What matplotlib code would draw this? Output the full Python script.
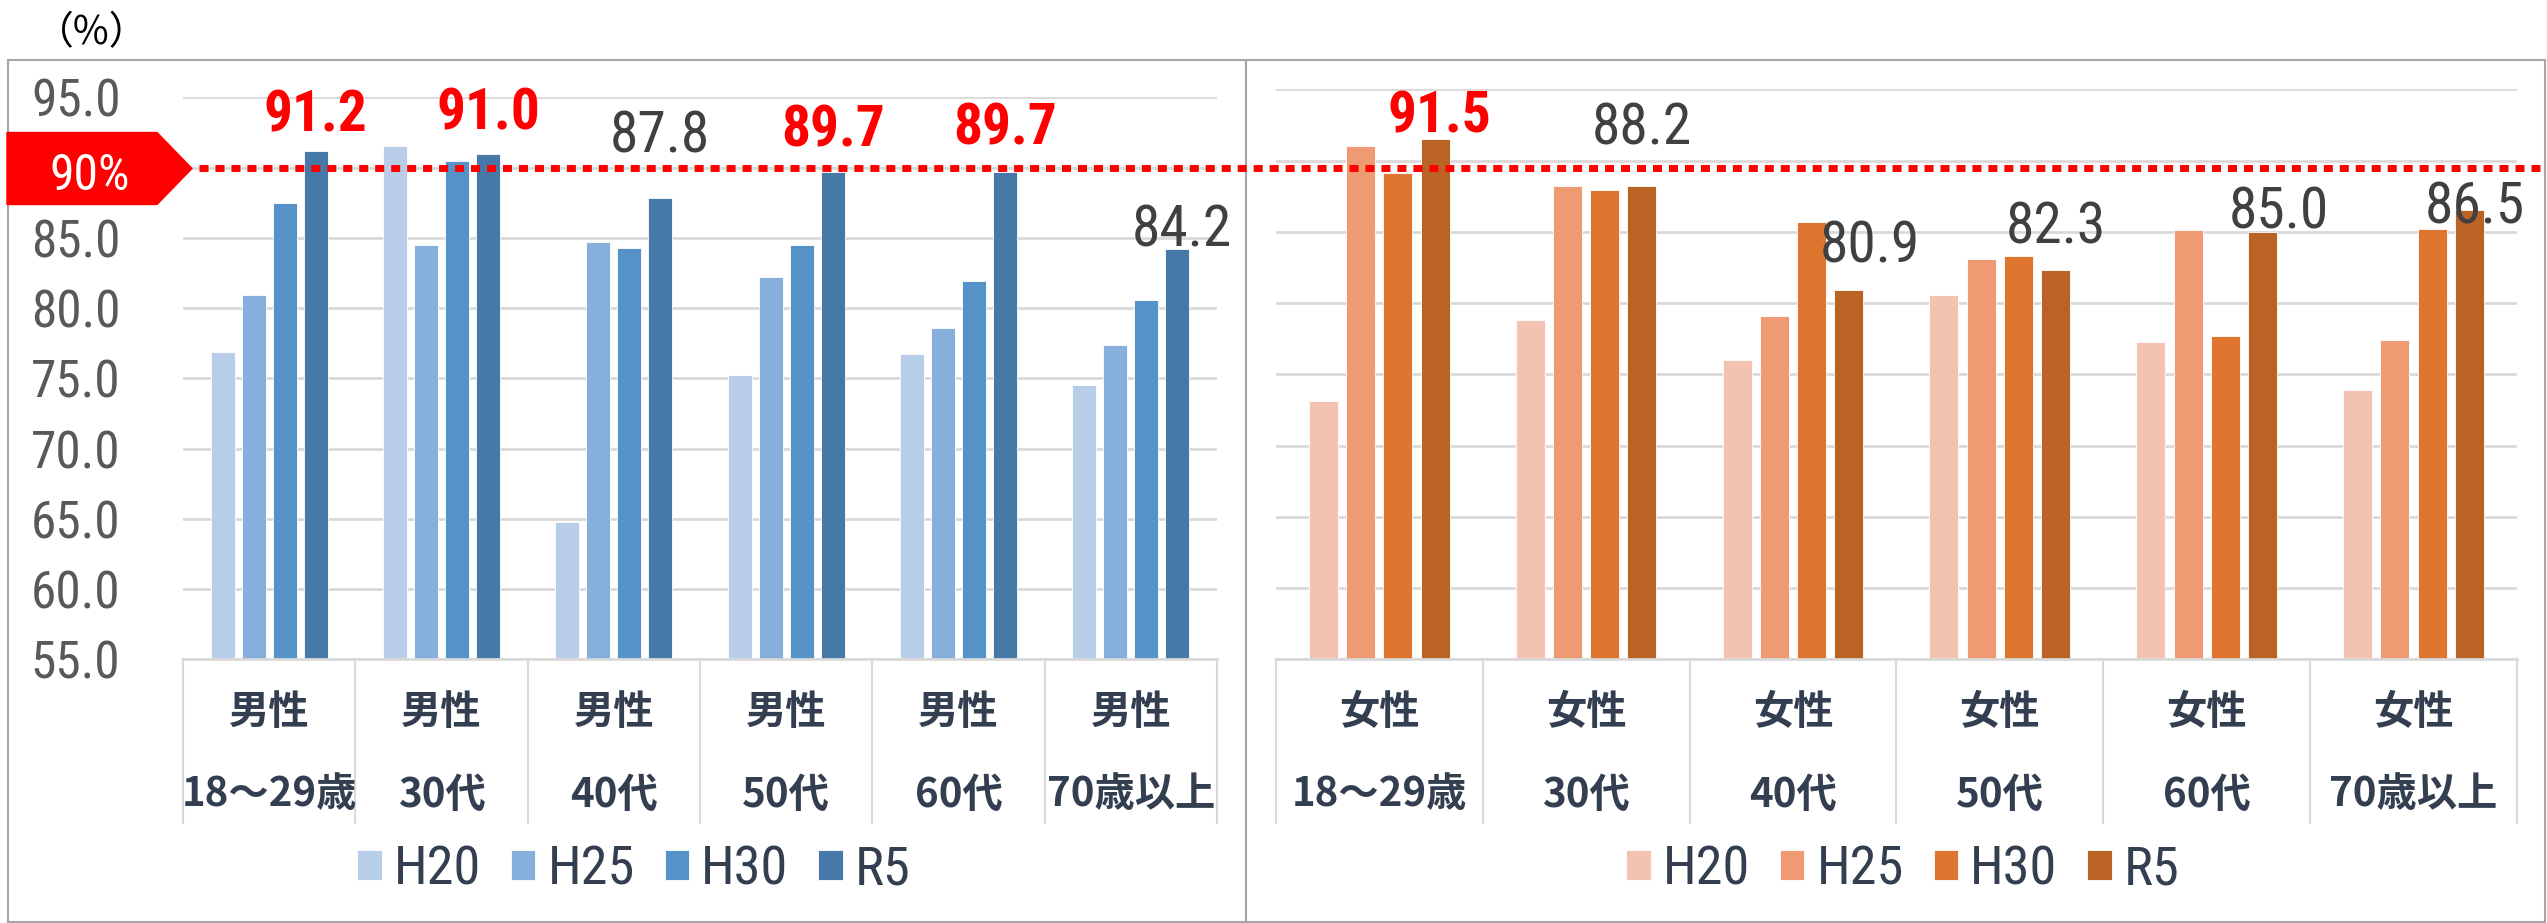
import matplotlib
matplotlib.use("Agg")
import numpy as np
import matplotlib.pyplot as plt
from matplotlib import font_manager as fm
from matplotlib.patches import Polygon, Rectangle
from matplotlib.lines import Line2D
from matplotlib.transforms import blended_transform_factory

plt.rcParams['font.family'] = ['Noto Sans CJK JP', 'DejaVu Sans']

# ---- data ----
years = ['H20', 'H25', 'H30', 'R5']
ages = ['18～29歳', '30代', '40代', '50代', '60代', '70歳以上']

male_h20 = [76.9, 91.5, 64.8, 75.2, 76.7, 74.5]
male_h25 = [80.9, 84.5, 84.7, 82.2, 78.6, 77.4]
male_h30 = [87.5, 90.5, 84.3, 84.5, 81.9, 80.6]
male_r5 = [91.2, 91.0, 87.8, 89.7, 89.7, 84.2]

female_h20 = [73.1, 78.8, 76.0, 80.6, 77.3, 73.9]
female_h25 = [91.0, 88.2, 79.1, 83.1, 85.1, 77.4]
female_h30 = [89.1, 87.9, 85.7, 83.3, 77.7, 85.2]
female_r5 = [91.5, 88.2, 80.9, 82.3, 85.0, 86.5]

target = 90

# ---- style ----
blues = ['#B8CDE8', '#86AFDB', '#5492C7', '#4678A8']
oranges = ['#F4C2B0', '#EF9A72', '#DE752F', '#BA6325']
# manual label nudges (pixels), like the hand-placed labels in the original
male_dx = [0, 0, 0, 0, 0, 5]
male_dy = [19, 24, 46, 25, 27, 3]
female_dx = [4, 0, 21, 0, 16, 5]
female_dy = [7, 42, 28, 27, 3, -13]

# the original uses tall narrow digits; use a condensed face if one is installed
narrow_family, narrow_stretch, scale = ['Noto Sans CJK JP'], 'normal', 1.0
fonts = {(f.name, f.stretch) for f in fm.fontManager.ttflist}
for name, st in [('Liberation Sans Narrow', 'condensed'), ('Liberation Sans Narrow', 'normal'),
                 ('Roboto Condensed', 'normal'), ('Roboto Condensed', 'condensed'),
                 ('DejaVu Sans', 'condensed'), ('DejaVu Sans', 'semi-condensed')]:
    if (name, st) in fonts:
        narrow_family, narrow_stretch, scale = [name], st, 1.12
        break
NARROW = narrow_family + ['DejaVu Sans']


def nprop(size, weight='normal'):
    return fm.FontProperties(family=NARROW, stretch=narrow_stretch,
                             size=size * scale, weight=weight)


W, H = 2547, 923
fig = plt.figure(figsize=(W / 100, H / 100), dpi=100)


def fx(px):
    return px / W


def fy(py):
    return 1 - py / H


ax_m = fig.add_axes([fx(183), fy(659.3), fx(1217) - fx(183), fy(97.3) - fy(659.3)])
ax_f = fig.add_axes([fx(1275.8), fy(659.3), fx(2517) - fx(1275.8), fy(89.3) - fy(659.3)])


def draw_panel(ax, sex, series, colors, dx, dy, show_ticks, legend_cx):
    x = np.arange(len(ages))
    handles = []
    for j, vals in enumerate(series):
        b = ax.bar(x + (j - 1.5) * 0.18, vals, 0.14, color=colors[j],
                   edgecolor='white', linewidth=0.6, zorder=2)
        handles.append(b)
    ax.set_xlim(-0.5, len(ages) - 0.5)
    ax.set_ylim(55, 95)
    ticks = np.arange(55, 96, 5)
    ax.set_yticks(ticks)
    ax.set_yticklabels([f'{t:.1f}' for t in ticks], fontproperties=nprop(33))
    ax.yaxis.grid(True, color='#D9D9D9', linewidth=2)
    ax.set_axisbelow(True)
    for s in ['top', 'left', 'right']:
        ax.spines[s].set_visible(False)
    ax.spines['bottom'].set_color('#D9D9D9')
    ax.spines['bottom'].set_linewidth(2)
    ax.set_xticks([])
    ax.tick_params(axis='y', length=0, pad=45, labelcolor='#595959',
                   labelleft=show_ticks)

    trans = blended_transform_factory(ax.transData, fig.transFigure)
    for i, age in enumerate(ages):
        ax.text(i, fy(713), sex, ha='center', va='center', fontsize=29,
                fontweight='bold', color='#333F50', transform=trans)
        ax.text(i, fy(795), age, ha='center', va='center', fontsize=29,
                fontweight='bold', color='#333F50', transform=trans)
    for bnd in np.arange(-0.5, len(ages)):
        ax.plot([bnd, bnd], [fy(659.3), fy(823)], color='#D9D9D9', lw=1.5,
                transform=trans, clip_on=False)

    # R5 value labels
    for i, v in enumerate(series[-1]):
        hi = v >= 89.5
        ax.annotate(f'{v:.1f}', (i + 1.5 * 0.18, v),
                    xytext=(dx[i] * 0.72, dy[i] * 0.72), textcoords='offset points',
                    ha='center', va='baseline',
                    fontproperties=nprop(37, 'bold' if hi else 'normal'),
                    color='#FF0000' if hi else '#404040',
                    annotation_clip=False, zorder=3)

    fig.legend(handles, years, loc='center', bbox_to_anchor=(fx(legend_cx), fy(870)),
               ncol=4, frameon=False, prop=nprop(35),
               labelcolor='#333F50', handlelength=0.45, handleheight=0.45,
               handletextpad=0.22, columnspacing=0.55, borderpad=0)


draw_panel(ax_m, '男性', [male_h20, male_h25, male_h30, male_r5], blues,
           male_dx, male_dy, True, 634)
draw_panel(ax_f, '女性', [female_h20, female_h25, female_h30, female_r5], oranges,
           female_dx, female_dy, False, 1903)

# panel frames
for x0, x1 in [(8, 1246), (1246, 2545)]:
    fig.add_artist(Rectangle((fx(x0), fy(922)), fx(x1) - fx(x0), fy(60) - fy(922),
                             fill=False, edgecolor='#A6A6A6', lw=1.5,
                             transform=fig.transFigure))

fig.text(fx(92), fy(33), '（%）', ha='center', va='center', fontsize=28, color='black')

# 90% target line and tag
tline = Line2D([fx(199), fx(2540)], [target, target],
               transform=blended_transform_factory(fig.transFigure, ax_m.transData),
               color='#FF0000', lw=5, linestyle=(0, (1.3, 1.0)),
               dash_capstyle='butt', zorder=5)
fig.add_artist(tline)
ly = 168.5
tag = Polygon([(fx(7), fy(ly - 36)), (fx(157), fy(ly - 36)), (fx(192), fy(ly)),
               (fx(157), fy(ly + 36)), (fx(7), fy(ly + 36))],
              closed=True, color='#FF0000', transform=fig.transFigure, zorder=5)
fig.add_artist(tag)
fig.text(fx(90), fy(ly + 22), f'{target}%', ha='center', va='baseline',
         fontproperties=nprop(32), color='white', zorder=6)

fig.savefig('out.png', dpi=100)
